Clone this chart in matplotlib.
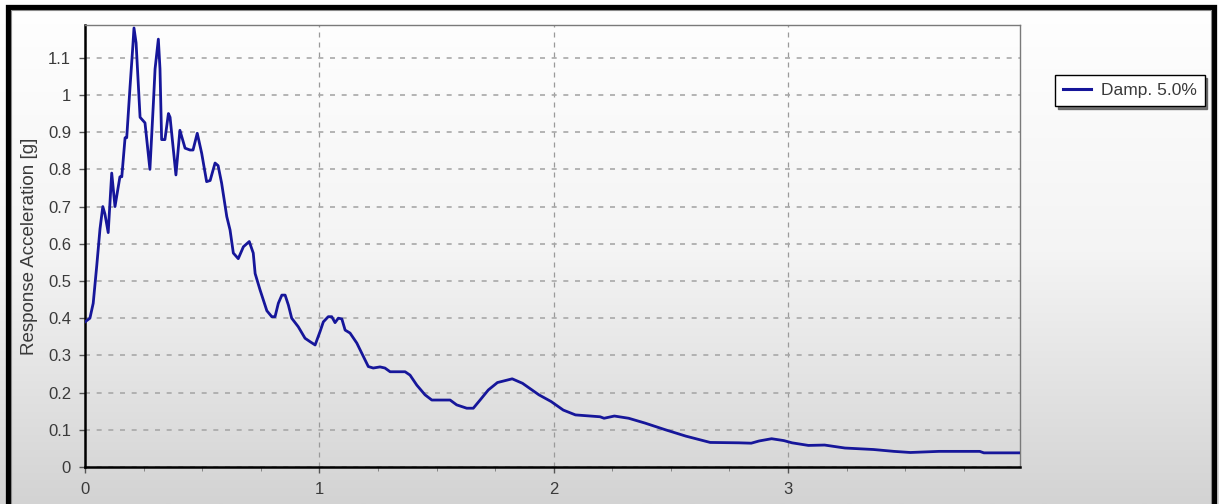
import numpy as np
import matplotlib
matplotlib.use("Agg")
import matplotlib.pyplot as plt
from matplotlib.patches import Rectangle
from matplotlib.ticker import MultipleLocator

# response spectrum
period = [0.000, 0.021, 0.035, 0.050, 0.064, 0.076, 0.085, 0.099, 0.114, 0.128,
          0.149, 0.157, 0.171, 0.178, 0.192, 0.204, 0.209, 0.218, 0.235, 0.256,
          0.277, 0.292, 0.299, 0.313, 0.320, 0.327, 0.341, 0.356, 0.363, 0.388,
          0.405, 0.427, 0.448, 0.461, 0.479, 0.498, 0.519, 0.534, 0.555, 0.568,
          0.583, 0.605, 0.619, 0.633, 0.654, 0.676, 0.701, 0.718, 0.726, 0.747,
          0.776, 0.797, 0.811, 0.825, 0.840, 0.854, 0.868, 0.882, 0.910, 0.939,
          0.960, 0.982, 1.003, 1.017, 1.038, 1.053, 1.067, 1.081, 1.096, 1.110,
          1.131, 1.160, 1.188, 1.209, 1.230, 1.259, 1.280, 1.302, 1.366, 1.387,
          1.416, 1.451, 1.480, 1.558, 1.586, 1.629, 1.657, 1.686, 1.721, 1.760,
          1.823, 1.867, 1.937, 1.989, 2.041, 2.093, 2.198, 2.215, 2.259, 2.320,
          2.390, 2.477, 2.564, 2.668, 2.790, 2.843, 2.877, 2.930, 2.982, 3.017,
          3.087, 3.156, 3.243, 3.365, 3.452, 3.522, 3.644, 3.818, 3.836, 4.000]
accel = [0.390, 0.400, 0.440, 0.540, 0.640, 0.700, 0.680, 0.630, 0.790, 0.700,
         0.780, 0.780, 0.885, 0.885, 1.020, 1.130, 1.180, 1.140, 0.940, 0.925,
         0.800, 0.980, 1.070, 1.150, 1.070, 0.880, 0.880, 0.950, 0.940, 0.785,
         0.905, 0.857, 0.852, 0.852, 0.897, 0.843, 0.767, 0.770, 0.817, 0.810,
         0.763, 0.673, 0.637, 0.575, 0.560, 0.592, 0.606, 0.575, 0.520, 0.476,
         0.420, 0.404, 0.404, 0.440, 0.462, 0.462, 0.435, 0.400, 0.377, 0.346,
         0.337, 0.328, 0.364, 0.390, 0.404, 0.404, 0.388, 0.400, 0.398, 0.368,
         0.360, 0.333, 0.297, 0.270, 0.266, 0.269, 0.266, 0.256, 0.256, 0.247,
         0.220, 0.194, 0.180, 0.180, 0.167, 0.158, 0.158, 0.180, 0.207, 0.227,
         0.237, 0.225, 0.194, 0.176, 0.153, 0.140, 0.135, 0.131, 0.137, 0.131,
         0.118, 0.100, 0.083, 0.066, 0.065, 0.064, 0.070, 0.076, 0.071, 0.065,
         0.058, 0.059, 0.051, 0.047, 0.042, 0.039, 0.042, 0.042, 0.038, 0.038]

series_label = "Damp. 5.0%"
y_label = "Response Acceleration [g]"
x_ticks = [0, 1, 2, 3]
y_ticks = [0, 0.1, 0.2, 0.3, 0.4, 0.5, 0.6, 0.7, 0.8, 0.9, 1, 1.1]
y_tick_labels = ["0", "0.1", "0.2", "0.3", "0.4", "0.5", "0.6", "0.7", "0.8", "0.9", "1", "1.1"]

plt.rcParams["font.family"] = ["Liberation Sans", "DejaVu Sans"]

W, H = 1219, 504
fig = plt.figure(figsize=(W / 100, H / 100), dpi=100)

# grey gradient behind everything
bg = fig.add_axes([0, 0, 1, 1], zorder=-10)
grad = np.linspace(1.0, 0.0, 256).reshape(-1, 1)
bg.imshow(grad, aspect="auto", cmap=plt.matplotlib.colors.LinearSegmentedColormap.from_list(
    "g", ["#d3d3d3", "#f4f4f4", "#ffffff"]), extent=[0, 1, 0, 1], vmin=0, vmax=1)
bg.set_axis_off()

# thick black frame of the window, thin grey line just inside
fig.patches.append(Rectangle((7.5 / W, -0.1), (1213.5 - 7.5) / W, 1.1 - 7.5 / H,
                             transform=fig.transFigure, fill=False,
                             edgecolor="black", linewidth=3.8))
fig.patches.append(Rectangle((10.5 / W, -0.1), (1210.5 - 10.5) / W, 1.1 - 10.5 / H,
                             transform=fig.transFigure, fill=False,
                             edgecolor="#8a8a8a", linewidth=0.8))

ax = fig.add_axes([85 / W, 1 - 467 / H, (1020 - 85) / W, (467 - 25) / H])
ax.set_facecolor("none")

ax.plot(period, accel, color="#16169a", linewidth=2.0, label=series_label, zorder=3,
        solid_joinstyle="round")

ax.set_xlim(0, 3.99)
ax.set_ylim(0, 1.188)
ax.set_xticks(x_ticks)
ax.set_xticklabels([str(t) for t in x_ticks])
ax.xaxis.set_minor_locator(MultipleLocator(0.25))
ax.set_yticks(y_ticks)
ax.set_yticklabels(y_tick_labels)

ax.grid(True, which="major", axis="x", color="#9a9a9a", linestyle=(0, (4, 4)), linewidth=0.9)
ax.grid(True, which="major", axis="y", color="#a8a8a8", linestyle=(0, (3, 4)), linewidth=1.2)

ax.tick_params(axis="both", which="major", direction="out", length=4, width=1,
               color="#555555", labelsize=12, labelcolor="#3a3a3a")
ax.tick_params(axis="x", which="major", pad=7)
ax.tick_params(axis="y", which="major", pad=6)
ax.tick_params(axis="x", which="minor", direction="out", length=3, color="#777777")

for side in ["left", "bottom"]:
    ax.spines[side].set_color("black")
    ax.spines[side].set_linewidth(1.8)
for side in ["top", "right"]:
    ax.spines[side].set_color("#7a7a7a")
    ax.spines[side].set_linewidth(1.0)

ax.set_ylabel(y_label, fontsize=13.5, color="#3a3a3a", labelpad=7)

leg = ax.legend(loc="upper left", bbox_to_anchor=(1055 / W, 1 - 75 / H),
                bbox_transform=fig.transFigure, fontsize=12.5, frameon=True,
                fancybox=False, shadow={"color": "#555555", "alpha": 0.8},
                edgecolor="black", handlelength=1.6, borderpad=0.45,
                handletextpad=0.6, borderaxespad=0)
leg.get_frame().set_linewidth(1.0)
leg.get_frame().set_facecolor("white")
for txt in leg.get_texts():
    txt.set_color("#3a3a3a")
for ln in leg.get_lines():
    ln.set_linewidth(2.2)

fig.savefig("out.png", dpi=100)
